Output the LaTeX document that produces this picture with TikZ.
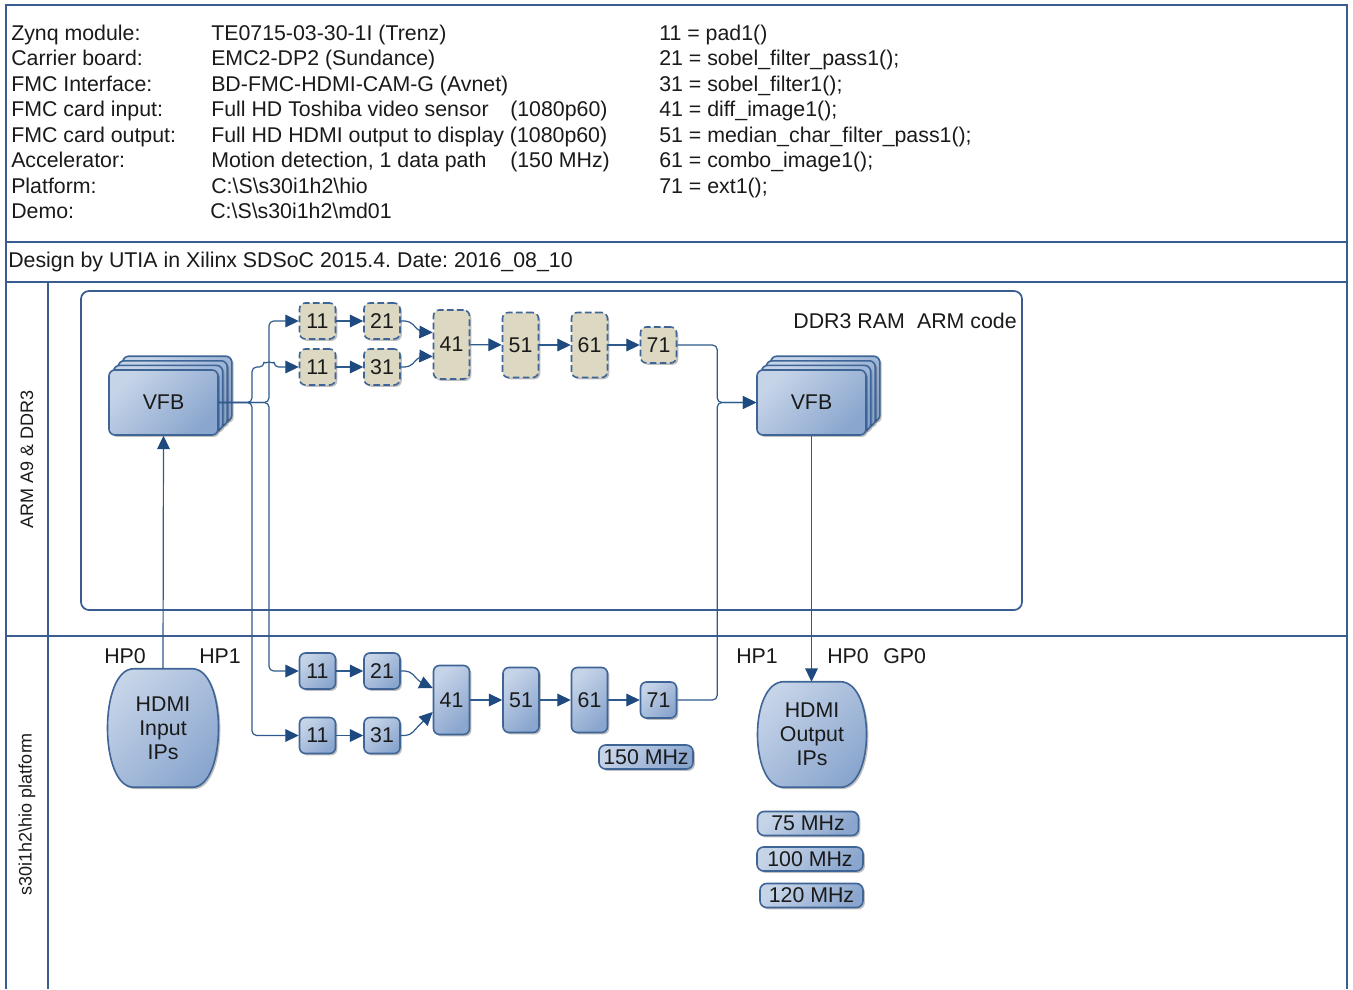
\documentclass[tikz,border=0pt]{standalone}
\usepackage{fontspec}
\setmainfont{Liberation Sans}
\usetikzlibrary{arrows.meta,calc,shadows}
\definecolor{framec}{HTML}{3A5D91}
\definecolor{wirec}{HTML}{2F5A8C}
\definecolor{arrowc}{HTML}{1E4A80}
\definecolor{boxc}{HTML}{3E6596}
\definecolor{lightb}{HTML}{C6D4E8}
\definecolor{darkb}{HTML}{8AA6CE}
\definecolor{beige}{HTML}{DDD8C2}
\definecolor{textc}{HTML}{1A1A1A}
\frenchspacing
\begin{document}
\begin{tikzpicture}[x=0.75pt,y=-0.75pt,
  txt/.style={inner sep=0pt, anchor=base west, font=\fontsize{16}{19}\selectfont, text=textc},
  frame/.style={draw=framec, line width=1.5pt},
  shad/.style={drop shadow={shadow xshift=1.4pt,shadow yshift=-1.4pt,opacity=0.25,fill=black}},
  bx/.style={shad, draw=boxc, line width=1.2pt, rounded corners=4.5pt, top color=lightb, bottom color=darkb, shading angle=45,
     inner sep=0pt, font=\fontsize{16}{19}\selectfont, text=textc, minimum width=27pt, minimum height=27pt},
  dbx/.style={shad, draw=boxc, fill=beige, line width=1.2pt, rounded corners=4.5pt, dash pattern=on 5pt off 2.5pt,
     inner sep=0pt, font=\fontsize{16}{19}\selectfont, text=textc, minimum width=27pt, minimum height=27pt},
  tall/.style={minimum height=51.75pt},
  mid/.style={minimum height=48.75pt},
  vfbbox/.style={shad, draw=boxc, line width=1.2pt, rounded corners=4.5pt, top color=lightb, bottom color=darkb, shading angle=45,
     inner sep=0pt, font=\fontsize{16}{19}\selectfont, text=textc, minimum width=81.75pt, minimum height=48.75pt},
  ipframe/.style={inner sep=0pt},
  ipshape/.style={shad, draw=boxc, line width=1.2pt, top color=lightb, bottom color=darkb, shading angle=45},
  iptext/.style={inner sep=0pt, font=\fontsize{16}{19}\selectfont, text=textc, align=center},
  mhz/.style={bx, rounded corners=5pt, minimum height=18pt},
  wire/.style={draw=wirec, line width=0.9pt, rounded corners=3.5pt},
  arr/.style={wire, -{Triangle[length=10pt,width=9.5pt,color=arrowc]}},
]
\useasboundingbox (0,0) rectangle (1353,989);
\fill[white] (0,0) rectangle (1353,989);

% frame
\draw[frame] (6,989) -- (6,5) -- (1347,5) -- (1347,989);
\draw[frame] (6,242) -- (1347,242);
\draw[frame] (6,282) -- (1347,282);
\draw[frame] (6,636) -- (1347,636);
\draw[frame] (48,282) -- (48,989);

% header
\foreach \r/\a/\b/\c in {0/Zynq module:/TE0715-03-30-1I (Trenz)/11 = pad1(),
  1/Carrier board:/EMC2-DP2 (Sundance)/21 = sobel\_filter\_pass1();,
  2/FMC Interface:/BD-FMC-HDMI-CAM-G (Avnet)/31 = sobel\_filter1();,
  3/FMC card input:/Full HD Toshiba video sensor/41 = diff\_image1();,
  4/FMC card output:/Full HD HDMI output to display (1080p60)/51 = median\_char\_filter\_pass1();,
  5/Accelerator:/Motion detection{,} 1 data path/61 = combo\_image1();,
  6/Platform:/C:\textbackslash S\textbackslash s30i1h2\textbackslash hio/71 = ext1();}
{
  \node[txt] (ha\r) at (11,40+\r*25.5) {\a};
  \node[txt] (hb\r) at (211,40+\r*25.5) {\b};
  \node[txt] (hc\r) at (659,40+\r*25.5) {\c};
}
\node[txt] (ha7) at (11,218.5) {Demo:};
\node[txt] (hb7) at (210,218.5) {C:\textbackslash S\textbackslash s30i1h2\textbackslash md01};
\node[txt] (hp4) at (510,116.5) {(1080p60)};
\node[txt] (hp6) at (510,167.5) {(150 MHz)};
\node[txt] (design) at (8,267) {Design by UTIA in Xilinx SDSoC 2015.4. Date: 2016\_08\_10};

% lane labels
\node[rotate=90, inner sep=0pt, font=\fontsize{13.5}{16}\selectfont, text=textc] (lane1) at (27,459) {ARM A9 \& DDR3};
\node[rotate=90, inner sep=0pt, font=\fontsize{13.5}{16}\selectfont, text=textc] (lane2) at (27,814) {s30i1h2\textbackslash hio platform};

% DDR region
\draw[draw=framec, line width=1.3pt, rounded corners=6pt] (81,291) rectangle (1022,610);
\node[inner sep=0pt, anchor=base east, font=\fontsize{16}{19}\selectfont, text=textc] (ddr) at (1017,328) {DDR3 RAM\hspace{0.3em} ARM code};

% VFB stacks
\foreach \k in {3,2,1} {
  \node[vfbbox] (vfbLb\k) at (163.5+\k*4.6,402.5-\k*4.6) {};
  \node[vfbbox] (vfbRb\k) at (811.5+\k*4.6,402.5-\k*4.6) {};
}
\node[vfbbox] (vfbL) at (163.5,402.5) {VFB};
\node[vfbbox] (vfbR) at (811.5,402.5) {VFB};

% top pipeline (dashed)
\node[dbx] (t11a) at (317.5,321) {11};
\node[dbx] (t21) at (382,321) {21};
\node[dbx] (t11b) at (317.5,367) {11};
\node[dbx] (t31) at (382,367) {31};
\node[dbx,tall] (t41) at (451.5,344.5) {41};
\node[dbx,mid] (t51) at (520.5,345) {51};
\node[dbx,mid] (t61) at (589.5,345) {61};
\node[dbx] (t71) at (658.5,345) {71};

% bottom pipeline
\node[bx] (b11a) at (317.5,671) {11};
\node[bx] (b21) at (382,671) {21};
\node[bx] (b11b) at (317.5,735.5) {11};
\node[bx] (b31) at (382,735.5) {31};
\node[bx,tall] (b41) at (451.5,700) {41};
\node[bx,mid] (b51) at (521,700) {51};
\node[bx,mid] (b61) at (589.5,700) {61};
\node[bx] (b71) at (658.5,700) {71};

\node[mhz, minimum width=70.5pt] (m150) at (646,757) {150 MHz};
\node[mhz, minimum width=75.75pt] (m75) at (808,823.5) {75 MHz};
\node[mhz, minimum width=79.5pt] (m100) at (810,859) {100 MHz};
\node[mhz, minimum width=77.25pt] (m120) at (811.5,895.5) {120 MHz};

% HDMI IPs
\node[ipframe, minimum width=82.5pt, minimum height=88.5pt] (hin) at (163,728) {};
\node[ipframe, minimum width=81pt, minimum height=78.75pt] (hout) at (812,734.5) {};
\foreach \n in {hin,hout} {
  \path[ipshape] ($(\n.north west)+(26,0)$) -- ($(\n.north east)+(-26,0)$)
    .. controls ($(\n.north east)+(9,0)$) and ($(\n.south east)+(9,0)$) .. ($(\n.south east)+(-26,0)$)
    -- ($(\n.south west)+(26,0)$)
    .. controls ($(\n.south west)+(-9,0)$) and ($(\n.north west)+(-9,0)$) .. cycle;
}
\node[iptext] (hintext) at (hin.center) {HDMI\\[-1pt]Input\\[-1pt]IPs};
\node[iptext] (houttext) at (hout.center) {HDMI\\[-1pt]Output\\[-1pt]IPs};

% port labels
\node[txt] (hp0a) at (104,663) {HP0};
\node[txt] (hp1a) at (199,663) {HP1};
\node[txt] (hp1b) at (736,663) {HP1};
\node[txt] (hp0b) at (827,663) {HP0};
\node[txt] (gp0) at (883,663) {GP0};

% connectors
\draw[arr] (hin.north) -- (vfbL.south);
\draw[arr] (vfbL.east) -| (269,321) -- (t11a.west);
\draw[arr] (vfbL.east) -| (252,367) -- (264,367) arc[start angle=180,end angle=0,radius=3.75pt] -- (t11b.west);
\draw[arr] (vfbL.east) -| (269,671) -- (b11a.west);
\draw[arr] (vfbL.east) -| (252,735.5) -- (b11b.west);

\draw[arr] (t11a) -- (t21);
\draw[arr] (t11b) -- (t31);
\draw[arr] (t21.east) -- ++(9,0) -- ++(10,11) -- ($(t41.west)+(0,-12)$);
\draw[arr] (t31.east) -- ++(9,0) -- ++(10,-11) -- ($(t41.west)+(0,12)$);
\draw[arr] (t41) -- (t51);
\draw[arr] (t51) -- (t61);
\draw[arr] (t61) -- (t71);
\draw[arr] (t71.east) -| ($(vfbR.west)+(-39,0)$) -- (vfbR.west);

\draw[arr] (b11a) -- (b21);
\draw[arr] (b11b) -- (b31);
\draw[arr] (b21.east) -- ++(9,0) -- ++(10,11) -- ($(b41.west)+(0,-12)$);
\draw[arr] (b31.east) -- ++(9,0) -- ++(10,-11) -- ($(b41.west)+(0,12)$);
\draw[arr] (b41) -- (b51);
\draw[arr] (b51) -- (b61);
\draw[arr] (b61) -- (b71);
\draw[arr] (b71.east) -| ($(vfbR.west)+(-39,0)$) -- (vfbR.west);

\draw[arr] (vfbR.south) -- (vfbR.south |- hout.north);
\end{tikzpicture}
\end{document}
